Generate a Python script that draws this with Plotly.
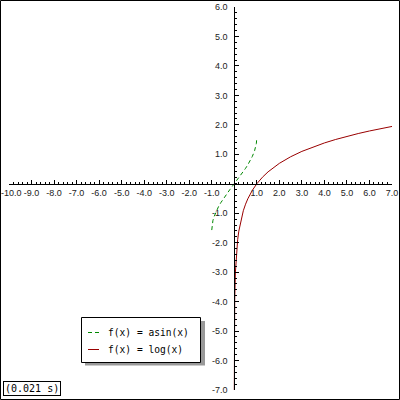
import plotly.graph_objects as go

# ---- data ----
asin_x = [-1.0, -0.98, -0.95, -0.9, -0.8, -0.7, -0.6, -0.5, -0.4, -0.3, -0.2, -0.1, 0.0,
          0.1, 0.2, 0.3, 0.4, 0.5, 0.6, 0.7, 0.8, 0.9, 0.95, 0.98, 1.0]
asin_y = [-1.571, -1.371, -1.253, -1.120, -0.927, -0.775, -0.644, -0.524, -0.412, -0.305, -0.201, -0.100, 0.0,
          0.100, 0.201, 0.305, 0.412, 0.524, 0.644, 0.775, 0.927, 1.120, 1.253, 1.371, 1.571]

log_x = [0.0009, 0.002, 0.005, 0.01, 0.02, 0.05, 0.1, 0.15, 0.2, 0.3, 0.4, 0.5, 0.6, 0.8, 1.0,
         1.25, 1.5, 2.0, 2.5, 3.0, 3.5, 4.0, 4.5, 5.0, 5.5, 6.0, 6.5, 7.0]
log_y = [-7.013, -6.215, -5.298, -4.605, -3.912, -2.996, -2.303, -1.897, -1.609, -1.204, -0.916, -0.693, -0.511, -0.223, 0.0,
         0.223, 0.405, 0.693, 0.916, 1.099, 1.253, 1.386, 1.504, 1.609, 1.705, 1.792, 1.872, 1.946]

series_names = ["f(x) = asin(x)", "f(x) = log(x)"]
timing_label = "(0.021 s)"

x_tick_vals = [-10, -9, -8, -7, -6, -5, -4, -3, -2, -1, 1, 2, 3, 4, 5, 6, 7]
x_tick_text = ["-10.0", "-9.0", "-8.0", "-7.0", "-6.0", "-5.0", "-4.0", "-3.0", "-2.0", "-1.0",
               "1.0", "2.0", "3.0", "4.0", "5.0", "6.0", "7.0"]
y_tick_vals = [-7, -6, -5, -4, -3, -2, -1, 1, 2, 3, 4, 5, 6]
y_tick_text = ["-7.0", "-6.0", "-5.0", "-4.0", "-3.0", "-2.0", "-1.0", "1.0", "2.0", "3.0", "4.0", "5.0", "6.0"]

x_range = [-10, 7]
y_range = [-7, 6]

GREEN = "#008800"
RED = "#990000"

# ---- layout geometry (pixels) ----
W = H = 400
ML, MR, MT, MB = 9, 8, 7, 10
PW = W - ML - MR
PH = H - MT - MB


def px(x):
    return (x - ML) / PW


def py(y):
    return (H - MB - y) / PH


fig = go.Figure()
fig.add_trace(go.Scatter(x=asin_x, y=asin_y, mode="lines", name=series_names[0],
                         line=dict(color=GREEN, width=1, dash="4px,3px")))
fig.add_trace(go.Scatter(x=log_x, y=log_y, mode="lines", name=series_names[1],
                         line=dict(color=RED, width=1)))

tick_font = dict(family="Liberation Sans", size=9, color="#222")
mono_legend = dict(family="DejaVu Sans Mono", size=9.6, color="#000")
mono = dict(family="DejaVu Sans Mono", size=10, color="#000")

# the leftmost x label sits against the page edge: draw it as an annotation
x_tick_text_drawn = [""] + x_tick_text[1:]

fig.update_layout(
    width=W, height=H,
    margin=dict(l=ML, r=MR, t=MT, b=MB, pad=0),
    paper_bgcolor="white", plot_bgcolor="white",
    showlegend=False,
    xaxis=dict(range=x_range, anchor="free",
               position=(0 - y_range[0]) / (y_range[1] - y_range[0]),
               showline=True, linecolor="black", linewidth=1,
               showgrid=False, zeroline=False, automargin=False,
               ticks="inside", ticklen=4, tickcolor="black", tickwidth=1,
               tickmode="array", tickvals=x_tick_vals, ticktext=x_tick_text_drawn,
               minor=dict(ticks="inside", ticklen=2, dtick=0.2, tickcolor="black", showgrid=False),
               tickfont=tick_font, ticklabelstandoff=0, ticklabeloverflow="allow"),
    yaxis=dict(range=y_range, anchor="free",
               position=(0 - x_range[0]) / (x_range[1] - x_range[0]),
               showline=True, linecolor="black", linewidth=1,
               showgrid=False, zeroline=False, automargin=False,
               ticks="inside", ticklen=4, tickcolor="black", tickwidth=1,
               tickmode="array", tickvals=y_tick_vals, ticktext=y_tick_text,
               minor=dict(ticks="inside", ticklen=2, dtick=0.2, tickcolor="black", showgrid=False),
               tickfont=tick_font, ticklabelstandoff=5, ticklabeloverflow="allow"),
)

shapes = []
# outer frame
shapes.append(dict(type="rect", xref="paper", yref="paper",
                   x0=px(0.5), x1=px(399.5), y0=py(399.5), y1=py(0.5),
                   line=dict(color="black", width=1), fillcolor="rgba(0,0,0,0)", layer="above"))
# legend shadow and box
shapes.append(dict(type="rect", xref="paper", yref="paper",
                   x0=px(85), x1=px(205), y0=py(365.5), y1=py(321),
                   line=dict(width=0), fillcolor="#999999", layer="above"))
shapes.append(dict(type="rect", xref="paper", yref="paper",
                   x0=px(81.5), x1=px(200.5), y0=py(362.5), y1=py(317.5),
                   line=dict(color="black", width=1), fillcolor="white", layer="above"))
# legend samples
shapes.append(dict(type="line", xref="paper", yref="paper",
                   x0=px(88), x1=px(99), y0=py(332.5), y1=py(332.5),
                   line=dict(color=GREEN, width=1, dash="4px,3px"), layer="above"))
shapes.append(dict(type="line", xref="paper", yref="paper",
                   x0=px(88), x1=px(99), y0=py(349.5), y1=py(349.5),
                   line=dict(color=RED, width=1), layer="above"))
fig.update_layout(shapes=shapes)

annotations = [
    dict(text=x_tick_text[0], xref="paper", yref="paper", x=px(0.3), y=py(192.5),
         xanchor="left", yanchor="middle", showarrow=False, font=tick_font, borderpad=0),
    dict(text=series_names[0], xref="paper", yref="paper", x=px(106), y=py(332.5),
         xanchor="left", yanchor="middle", showarrow=False, font=mono_legend),
    dict(text=series_names[1], xref="paper", yref="paper", x=px(106), y=py(349.5),
         xanchor="left", yanchor="middle", showarrow=False, font=mono_legend),
    dict(text=timing_label, xref="paper", yref="paper", x=px(3), y=py(395.5),
         xanchor="left", yanchor="bottom", showarrow=False, font=mono,
         bordercolor="black", borderwidth=1, borderpad=1, bgcolor="white"),
]
fig.update_layout(annotations=annotations)

fig.write_html("out.html", config={"displayModeBar": False},
               post_script="document.body.style.margin='0';document.body.style.overflow='hidden';")
